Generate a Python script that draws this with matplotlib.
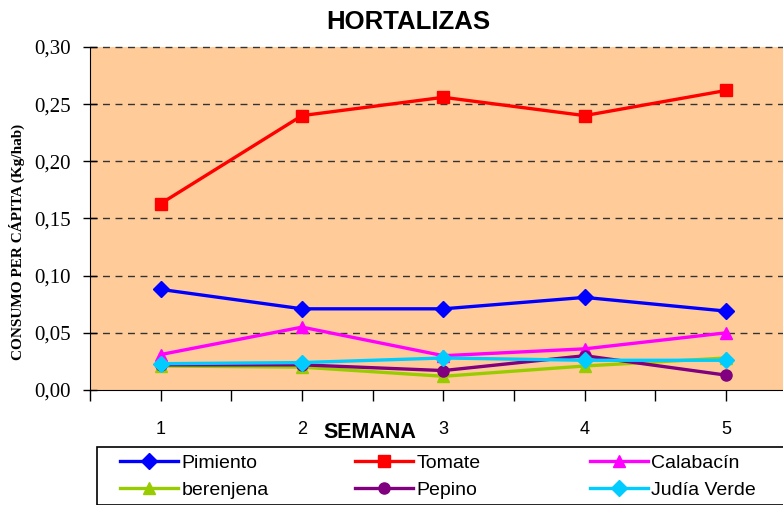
import matplotlib
matplotlib.use("Agg")
import matplotlib.pyplot as plt
from matplotlib.ticker import FuncFormatter, MultipleLocator
from matplotlib.patches import Rectangle

semanas = [1, 2, 3, 4, 5]
pimiento = [0.088, 0.071, 0.071, 0.081, 0.069]
tomate = [0.163, 0.240, 0.256, 0.240, 0.262]
calabacin = [0.031, 0.055, 0.030, 0.036, 0.050]
berenjena = [0.021, 0.020, 0.012, 0.021, 0.028]
pepino = [0.022, 0.022, 0.017, 0.030, 0.013]
judia = [0.023, 0.024, 0.028, 0.026, 0.026]

series = [
    ("Pimiento", pimiento, "#0000FF", "D", 8),
    ("Tomate", tomate, "#FF0000", "s", 8),
    ("Calabacín", calabacin, "#FF00FF", "^", 9),
    ("berenjena", berenjena, "#99CC00", "^", 9),
    ("Pepino", pepino, "#800080", "o", 8),
    ("Judía Verde", judia, "#00CCFF", "D", 8),
]

W, H = 783, 505
fig = plt.figure(figsize=(W/100, H/100), dpi=100)
ax = fig.add_axes([90/W, 1-390/H, 1-90/W, (390-47)/H])
ax.set_facecolor("#FFCC99")

for name, vals, col, mk, ms in series:
    ax.plot(semanas, vals, color=col, lw=2.4, marker=mk, ms=ms, label=name,
            markeredgecolor=col, clip_on=False, zorder=3)

ax.set_xticks(semanas)
ax.set_xticks([0.5, 1.5, 2.5, 3.5, 4.5, 5.5], minor=True)
ax.set_xlim(0.5, 1 + (783-160)/141.5)
ax.set_ylim(0, 0.30)
ax.yaxis.set_major_locator(MultipleLocator(0.05))
ax.yaxis.set_major_formatter(FuncFormatter(lambda v, p: f"{v:.2f}".replace(".", ",")))
ax.tick_params(axis="x", which="both", direction="out", length=8, width=1, pad=14,
               labelsize=13)
ax.tick_params(axis="y", direction="inout", length=10, width=1, labelsize=15, pad=9)
for lab in ax.get_yticklabels():
    lab.set_fontfamily("Liberation Serif")
for lab in ax.get_xticklabels():
    lab.set_fontfamily("Liberation Sans")

for v in [0.05, 0.10, 0.15, 0.20, 0.25, 0.30]:
    ax.axhline(v, color="#333333", lw=1, ls=(0, (5, 4)), zorder=1, clip_on=False)

ax.spines["top"].set_visible(False)
ax.spines["right"].set_visible(False)
ax.spines["left"].set_color("black")
ax.spines["bottom"].set_color("black")

fig.text(408/W, 1-22/H, "HORTALIZAS", ha="center", va="center",
         fontsize=18.5, fontweight="bold", family="Liberation Sans")
fig.text(370/W, 1-433/H, "SEMANA", ha="center", va="center",
         fontsize=15.5, fontweight="bold", family="Liberation Sans")
fig.text(17/W, 1-242/H, "CONSUMO PER CÁPITA (Kg/hab)", ha="center", va="center",
         rotation=90, fontsize=11, fontweight="bold", family="Liberation Serif")

handles, labels = ax.get_legend_handles_labels()
col_x = [120, 355, 590]
for c in range(3):
    idx = [c, c + 3]
    leg = fig.legend([handles[i] for i in idx], [labels[i] for i in idx], ncol=1,
                     bbox_to_anchor=(col_x[c]/W, 1-454/H), loc="upper left",
                     frameon=False, prop={"family": "Liberation Sans", "size": 14},
                     handlelength=3.0, handletextpad=0.15, borderaxespad=0,
                     borderpad=0, labelspacing=0.5)
fig.add_artist(Rectangle((97/W, 0), (800-97)/W, (505-447)/H, transform=fig.transFigure,
                         facecolor="none", edgecolor="black", lw=1.2, clip_on=False))

fig.savefig("out.png", dpi=100)
